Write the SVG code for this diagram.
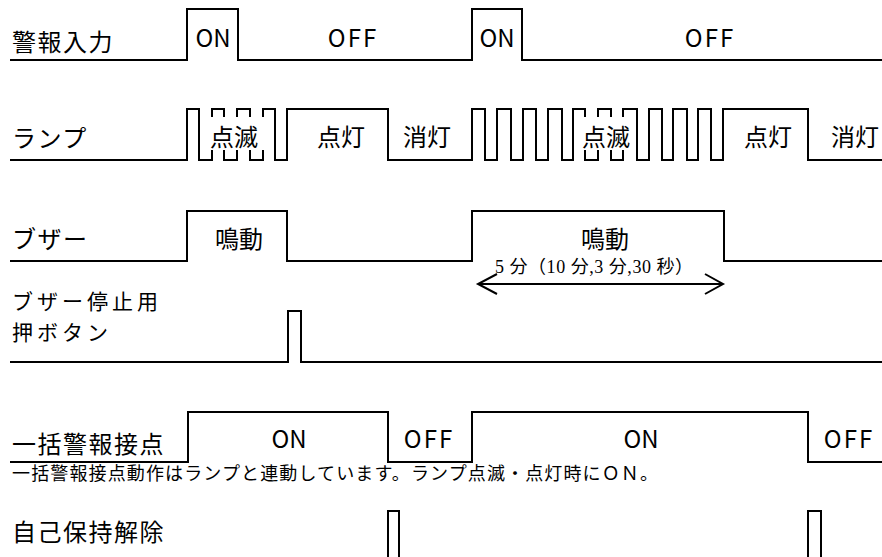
<svg xmlns="http://www.w3.org/2000/svg" width="882" height="557" viewBox="0 0 882 557">
<defs>
<style>
.w{fill:none;stroke:#000;stroke-width:2;stroke-linejoin:miter;stroke-linecap:butt}
.lb{font-family:"Noto Sans CJK JP","Noto Sans",sans-serif;font-size:24px;letter-spacing:1.5px;fill:#000}
.lb2{font-family:"Noto Sans CJK JP","Noto Sans",sans-serif;font-size:21px;letter-spacing:4px;fill:#000}
.st{font-family:"Noto Sans CJK JP","Noto Sans",sans-serif;font-size:24px;fill:#000;text-anchor:middle}
.nt{font-family:"Noto Sans CJK JP","Noto Sans",sans-serif;font-size:18px;fill:#000}
.sr{font-family:"Liberation Serif","Noto Sans CJK JP",serif;font-size:18px;fill:#000}
.mask{fill:#fff;stroke:none}
</style>
</defs>
<rect width="882" height="557" fill="#fff"/>
<g id="alarm-input">
<path class="w" d="M10,60 H187 V9 H238 V60 H472 V9 H522 V60 H882"/>
<text class="lb" x="12" y="51">警報入力</text>
<text class="st" x="213" y="47">ON</text>
<text class="st" x="353" y="47" letter-spacing="2">OFF</text>
<text class="st" x="497" y="47">ON</text>
<text class="st" x="710" y="47" letter-spacing="2">OFF</text>
</g>
<g id="lamp">
<path class="w" d="M10,160 H187 V109 H199 V160 H212 V109 H224 V160 H237 V109 H250 V160 H263 V109 H275 V160 H287 V109 H388 V160 H472 V109 H485 V160 H497 V109 H511 V160 H523 V109 H536 V160 H548 V109 H562 V160 H573 V109 H585 V160 H598 V109 H611 V160 H623 V109 H637 V160 H649 V109 H662 V160 H673 V109 H687 V160 H698 V109 H711 V160 H723 V109 H808 V160 H882"/>
<rect class="mask" x="206" y="117" width="62" height="33"/>
<rect class="mask" x="579" y="117" width="54" height="33"/>
<text class="lb" x="12" y="147">ランプ</text>
<text class="st" x="234" y="146">点滅</text>
<text class="st" x="341" y="146">点灯</text>
<text class="st" x="427" y="146">消灯</text>
<text class="st" x="606" y="146">点滅</text>
<text class="st" x="768" y="146">点灯</text>
<text class="st" x="855" y="146">消灯</text>
</g>
<g id="buzzer">
<path class="w" d="M10,261 H187 V211 H287 V261 H472 V211 H724 V261 H882"/>
<text class="lb" x="12" y="248">ブザー</text>
<text class="st" x="239" y="248">鳴動</text>
<text class="st" x="605" y="248">鳴動</text>
</g>
<g id="duration">
<text class="sr" x="495" y="273" textLength="198" lengthAdjust="spacing">5 分（10 分,3 分,30 秒）</text>
</g>
<g id="buzzer-stop">
<path class="w" d="M10,362 H288 V311 H301 V362 H882"/>
<text class="lb2" x="12" y="309">ブザー停止用</text>
<text class="lb2" x="12" y="340">押ボタン</text>
</g>
<g id="batch-contact">
<path class="w" d="M10,462 H188 V412 H388 V462 H472 V412 H808 V462 H882"/>
<text class="lb" x="12" y="453">一括警報接点</text>
<text class="st" x="289" y="448">ON</text>
<text class="st" x="429" y="448" letter-spacing="2">OFF</text>
<text class="st" x="641" y="448">ON</text>
<text class="st" x="849" y="448" letter-spacing="2">OFF</text>
<text class="nt" x="12" y="480" textLength="646" lengthAdjust="spacing">一括警報接点動作はランプと連動しています。ランプ点滅・点灯時にＯＮ。</text>
</g>
<g id="self-hold-release">
<path class="w" d="M388,560 V511 H399 V560"/>
<path class="w" d="M808,560 V511 H821 V560"/>
<text class="lb" x="12" y="541">自己保持解除</text>
</g>
<g id="connectors">
<path class="w" d="M478,284 H723 M497,274 L478,284 L497,294 M705,274 L723,284 L705,294"/>
</g>
</svg>
